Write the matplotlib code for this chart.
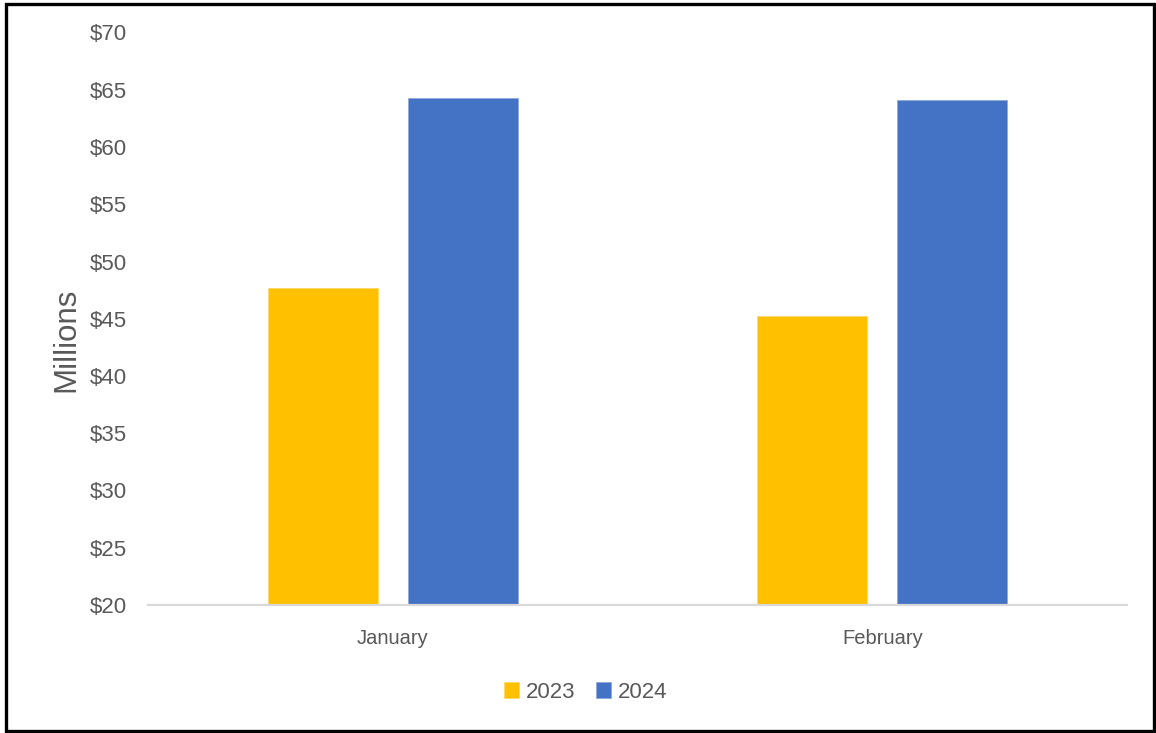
import matplotlib
matplotlib.use("Agg")
import matplotlib.pyplot as plt
from matplotlib.patches import Rectangle
import numpy as np

categories = ["January", "February"]
series_names = ["2023", "2024"]
values_2023 = [47.7, 45.2]
values_2024 = [64.3, 64.1]
yticks = [20, 25, 30, 35, 40, 45, 50, 55, 60, 65, 70]
ytick_labels = ["$20", "$25", "$30", "$35", "$40", "$45", "$50", "$55", "$60", "$65", "$70"]

colors = ["#FFC000", "#4472C4"]
text_color = "#595959"
plt.rcParams['font.family'] = ['Liberation Sans', 'DejaVu Sans']

W, H = 1156, 733
fig = plt.figure(figsize=(W / 100, H / 100), dpi=100)
ax = fig.add_axes([148 / W, 1 - 605 / H, (1127 - 148) / W, (605 - 32.5) / H])

x = np.arange(len(categories))
bw = 0.225
off = 0.143
ax.bar(x - off, np.array(values_2023) - 20, bw, bottom=20, color=colors[0],
       edgecolor="#FFD966", linewidth=0.6, label=series_names[0], zorder=3)
ax.bar(x + off, np.array(values_2024) - 20, bw, bottom=20, color=colors[1],
       edgecolor="#8FAADC", linewidth=0.6, label=series_names[1], zorder=3)

ax.set_xlim(-0.5, 1.5)
ax.set_ylim(20, 70)
ax.set_yticks(yticks)
ax.set_yticklabels(ytick_labels)
ax.set_xticks(x)
ax.set_xticklabels(categories)
ax.tick_params(axis='y', length=0, pad=15, labelsize=16, labelcolor=text_color)
ax.tick_params(axis='x', length=0, pad=17, labelsize=14.5, labelcolor=text_color)
for s in ["top", "right", "left"]:
    ax.spines[s].set_visible(False)
ax.spines["bottom"].set_color("#D9D9D9")
ax.spines["bottom"].set_linewidth(1.6)
ax.spines["bottom"].set_zorder(4)

fig.text(66 / W, 1 - 340 / H, "Millions", rotation=90, ha='center', va='center',
         fontsize=22.5, color=text_color)

fig.legend(loc='center', bbox_to_anchor=(585.5 / W, 1 - 692 / H), ncol=2, frameon=False,
           handlelength=0.7, handleheight=0.7, columnspacing=0.9, handletextpad=0.3,
           prop={'size': 16}, labelcolor=text_color)

fig.patches.append(Rectangle((5.5 / W, 2.5 / H), (1154 - 5.5) / W, (729 - 2.5) / H,
                             transform=fig.transFigure, fill=False, edgecolor="black",
                             linewidth=2.4, zorder=10))

fig.savefig("out.png", dpi=100, facecolor="white")
